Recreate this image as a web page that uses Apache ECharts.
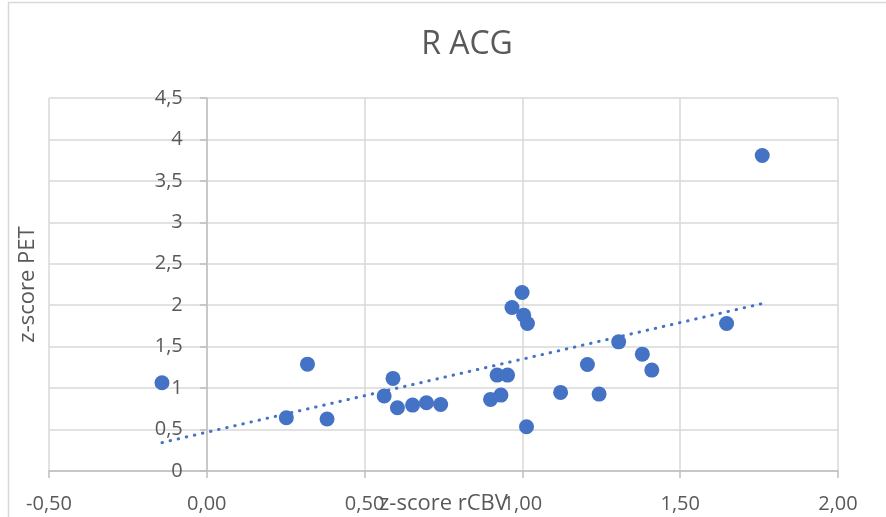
<!DOCTYPE html>
<html>
<head>
<meta charset="utf-8">
<title>R ACG</title>
<script src="https://cdn.jsdelivr.net/npm/echarts@6/dist/echarts.min.js"></script>
<style>
  html, body { margin: 0; padding: 0; background: #ffffff; }
  #chart { width: 886px; height: 517px; }
</style>
</head>
<body>
<div id="chart"></div>
<script>
// Scatter of z-score rCBV against z-score PET, right ACG
const rCBV = [
  -0.142, 0.252, 0.319, 0.381, 0.562, 0.590, 0.604, 0.652, 0.696, 0.741,
   0.899, 0.932, 0.920, 0.953, 0.967, 0.999, 1.004, 1.016, 1.013, 1.121,
   1.206, 1.243, 1.305, 1.380, 1.410, 1.647, 1.760
];
const petZ = [
   1.064, 0.642, 1.289, 0.627, 0.904, 1.117, 0.763, 0.795, 0.823, 0.803,
   0.864, 0.916, 1.157, 1.157, 1.972, 2.153, 1.880, 1.779, 0.534, 0.948,
   1.285, 0.928, 1.558, 1.410, 1.217, 1.779, 3.807
];

const xTicks = [-0.5, 0, 0.5, 1, 1.5, 2];
const xTickLabels = ['-0,50', '0,00', '0,50', '1,00', '1,50', '2,00'];
const yTicks = [0, 0.5, 1, 1.5, 2, 2.5, 3, 3.5, 4, 4.5];
const yTickLabels = ['0', '0,5', '1', '1,5', '2', '2,5', '3', '3,5', '4', '4,5'];

function lookup(ticks, labels, v) {
  for (let i = 0; i < ticks.length; i++) {
    if (Math.abs(ticks[i] - v) < 1e-6) return labels[i];
  }
  return '';
}

// Linear least-squares trendline across the data range
function linearFit(xs, ys) {
  const n = xs.length;
  let mx = 0, my = 0;
  for (let i = 0; i < n; i++) { mx += xs[i]; my += ys[i]; }
  mx /= n; my /= n;
  let sxy = 0, sxx = 0;
  for (let i = 0; i < n; i++) {
    sxy += (xs[i] - mx) * (ys[i] - my);
    sxx += (xs[i] - mx) * (xs[i] - mx);
  }
  const slope = sxy / sxx;
  return { slope: slope, intercept: my - slope * mx };
}
const fit = linearFit(rCBV, petZ);
const xLo = Math.min.apply(null, rCBV);
const xHi = Math.max.apply(null, rCBV);
const trend = [
  [xLo, fit.intercept + fit.slope * xLo],
  [xHi, fit.intercept + fit.slope * xHi]
];

const points = rCBV.map((x, i) => [x, petZ[i]]);

const FONT = '"Open Sans", "Noto Sans", sans-serif';
const TEXT = '#595959';
const GRID = '#d9d9d9';
const AXIS = '#bfbfbf';
const BLUE = '#4472C4';

// Plot box and x range; the value axis is drawn where x = 0
const GRID_LEFT = 49, GRID_RIGHT = 48, CHART_W = 886;
const X_MIN = -0.5, X_MAX = 2;
const plotW = CHART_W - GRID_LEFT - GRID_RIGHT;
const yAxisShift = -(0 - X_MIN) / (X_MAX - X_MIN) * plotW;

const chart = echarts.init(document.getElementById('chart'), null, { renderer: 'canvas' });
chart.setOption({
  backgroundColor: '#ffffff',
  animation: false,
  textStyle: { fontFamily: FONT },
  title: {
    text: 'R ACG',
    left: 462,
    textAlign: 'center',
    top: 24,
    textStyle: { fontFamily: FONT, fontSize: 32, fontWeight: 'normal', color: TEXT }
  },
  graphic: [{
    type: 'rect',
    shape: { x: 8.5, y: 2.5, width: 920, height: 560 },
    style: { fill: 'none', stroke: GRID, lineWidth: 1.5 },
    silent: true,
    z: -1
  }],
  grid: {
    left: GRID_LEFT, right: GRID_RIGHT, top: 98, bottom: 46,
    containLabel: false,
    outerBoundsMode: 'none'
  },
  xAxis: {
    type: 'value',
    min: X_MIN,
    max: X_MAX,
    interval: 0.5,
    name: 'z-score rCBV',
    nameLocation: 'middle',
    nameGap: 22,
    nameMoveOverlap: false,
    nameTextStyle: { fontFamily: FONT, fontSize: 22, color: TEXT, verticalAlign: 'top' },
    axisLine: { onZero: true, lineStyle: { color: AXIS, width: 1.5 } },
    axisTick: { show: true, length: 7, lineStyle: { color: AXIS, width: 1.5 } },
    axisLabel: {
      margin: 23,
      fontFamily: FONT,
      fontSize: 20,
      color: TEXT,
      hideOverlap: false,
      formatter: v => lookup(xTicks, xTickLabels, v)
    },
    splitLine: { show: true, lineStyle: { color: GRID, width: 1.5 } }
  },
  yAxis: {
    type: 'value',
    min: 0,
    max: 4.5,
    interval: 0.5,
    offset: yAxisShift,
    name: 'z-score PET',
    nameLocation: 'middle',
    nameGap: 168,
    nameRotate: 90,
    nameMoveOverlap: false,
    nameTextStyle: { fontFamily: FONT, fontSize: 22, color: TEXT },
    axisLine: { show: true, onZero: false, lineStyle: { color: AXIS, width: 1.5 } },
    axisTick: { show: true, length: 7, lineStyle: { color: AXIS, width: 1.5 } },
    axisLabel: {
      margin: 24,
      fontFamily: FONT,
      fontSize: 20,
      color: TEXT,
      formatter: v => lookup(yTicks, yTickLabels, v)
    },
    splitLine: { show: true, lineStyle: { color: GRID, width: 1.5 } }
  },
  series: [
    {
      name: 'Trend',
      type: 'line',
      data: trend,
      symbol: 'none',
      silent: true,
      z: 3,
      lineStyle: { color: BLUE, width: 3, type: [0.5, 7.8], cap: 'round' }
    },
    {
      name: 'z-score PET',
      type: 'scatter',
      data: points,
      symbol: 'circle',
      symbolSize: 15,
      z: 4,
      itemStyle: { color: BLUE, opacity: 1 }
    }
  ]
});
</script>
</body>
</html>
